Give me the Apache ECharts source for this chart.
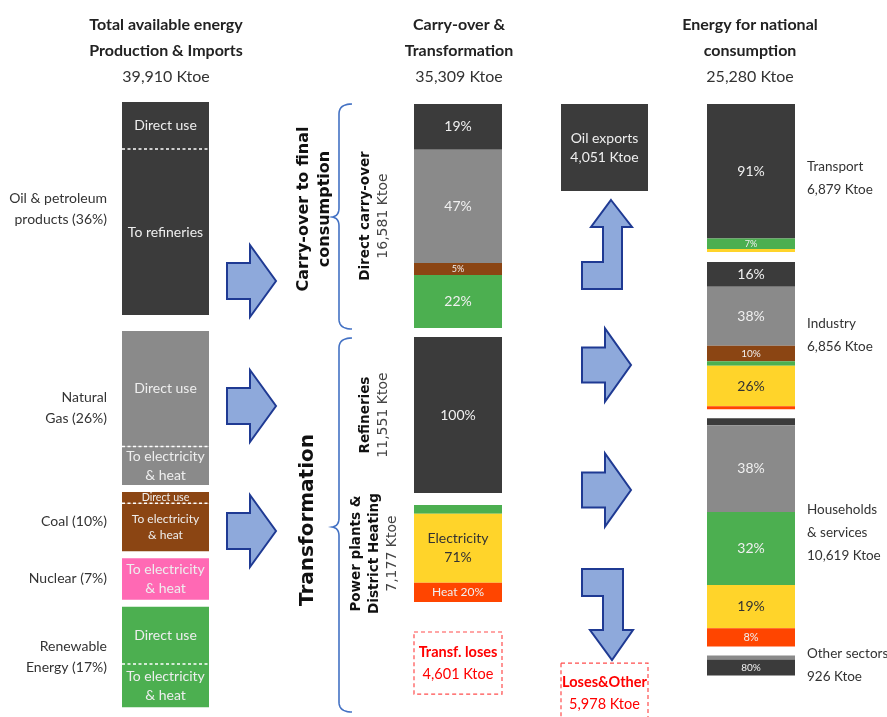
<!DOCTYPE html>
<html><head><meta charset="utf-8">
<script src="https://cdn.jsdelivr.net/npm/echarts@6/dist/echarts.min.js"></script>
<style>html,body{margin:0;padding:0;background:#fff}#c{width:887px;height:717px}</style>
</head><body><div id="c"></div>
<script>
// ================= DATA =================
// Column 1 – Total available energy (production & imports)
const totalAvailableKtoe = 39910;
const sourceNames = ['Oil & petroleum\nproducts (36%)', 'Natural\nGas (26%)', 'Coal (10%)', 'Nuclear (7%)', 'Renewable\nEnergy (17%)'];
const sourceFuels = ['oil', 'gas', 'coal', 'nuclear', 'renew'];
const sourceShare = [36, 26, 10, 7, 17];            // % of total available energy
const sourceDirectShare = [22, 75, 19, 0, 57];      // % of each source used directly
const sourceRestLabels = ['To refineries', 'To electricity\n& heat', 'To electricity\n& heat', 'To electricity\n& heat', 'To electricity\n& heat'];

// Column 2 – Carry-over & transformation
const carryTotalKtoe = 35309;
const carryBlockNames = ['Direct carry-over', 'Refineries', 'Power plants &\nDistrict Heating'];
const carryBlockKtoe = [16581, 11551, 7177];
const directCarryFuels = ['oil', 'gas', 'coal', 'renew'];
const directCarryMix = [19, 47, 5, 22];
const refineryFuels = ['oil'];
const refineryMix = [100];
const powerFuels = ['renew', 'elec', 'heat'];
const powerMix = [9, 71, 20];
const powerLabelPrefix = [null, 'Electricity\n', 'Heat '];
const transfLossesKtoe = 4601;

// Column 3 – Energy for national consumption
const nationalTotalKtoe = 25280;
const sectorNames = ['Transport', 'Industry', 'Households\n& services', 'Other sectors'];
const sectorKtoe = [6879, 6856, 10619, 926];
const transportFuels = ['oil', 'renew', 'elec'];
const transportMix = [91, 7, 2];
const industryFuels = ['oil', 'gas', 'coal', 'renew', 'elec', 'heat'];
const industryMix = [16, 38, 10, 3, 26, 2];
const householdFuels = ['oil', 'gas', 'renew', 'elec', 'heat'];
const householdMix = [3, 38, 32, 19, 8];
const otherFuels = ['gas', 'oil'];
const otherMix = [20, 80];
const oilExportsKtoe = 4051;
const lossesOtherKtoe = 5978;

// ================= STYLE / LAYOUT =================
const LATO = 'Lato, "Open Sans", sans-serif';
const DEJA = '"DejaVu Sans", Verdana, sans-serif';
const COLORS = {oil:'#3B3B3B', gas:'#8A8A8A', coal:'#8B4513', nuclear:'#FF69B4', renew:'#4CAF50', elec:'#FFD42A', heat:'#FF4500'};
const leftLabelFont = [14, 14, 12, 14, 14];
const CANVAS_H = 717;
const fmt = v => v.toLocaleString('en-US') + ' Ktoe';
const sum = a => a.reduce((s, v) => s + v, 0);

function buildColumn(blocks, gapsPx, ppu) {
  const items = [];
  let cursor = 0;
  blocks.forEach((b, i) => {
    if (i > 0) cursor += gapsPx[i - 1] / ppu;
    const top = cursor;
    b.segs.forEach(s => {
      items.push(Object.assign({kind: 'seg', y0: cursor, y1: cursor + s.v}, s));
      cursor += s.v;
    });
    if (b.side) items.push(Object.assign({kind: 'side', y0: top, y1: cursor}, b.side));
  });
  return {items, max: cursor};
}

function mixSegs(total, mix, fuels, prefixes) {
  const s = sum(mix);
  return mix.map((m, j) => {
    const pre = prefixes ? prefixes[j] : '';
    return {
      v: total * m / s,
      color: COLORS[fuels[j]],
      label: (m >= 5 && pre !== null) ? pre + m + '%' : '',
      textFill: fuels[j] === 'elec' ? '#333' : '#f0f0f0'
    };
  });
}

// Column 1 blocks
const leftBlocks = sourceShare.map((share, i) => {
  const direct = share * sourceDirectShare[i] / 100;
  const segs = [];
  if (direct > 0) segs.push({v: direct, color: COLORS[sourceFuels[i]], label: 'Direct use', fontSize: leftLabelFont[i], textFill: '#eee'});
  segs.push({v: share - direct, color: COLORS[sourceFuels[i]], label: sourceRestLabels[i], fontSize: leftLabelFont[i], textFill: '#eee', dashTop: direct > 0});
  return {segs, side: {pos: 'left', text: sourceNames[i]}};
});

// Column 2 blocks
const carryMixes = [[directCarryMix, directCarryFuels, null], [refineryMix, refineryFuels, null], [powerMix, powerFuels, powerLabelPrefix]];
const midBlocks = carryBlockKtoe.map((k, i) => ({
  segs: mixSegs(k, carryMixes[i][0], carryMixes[i][1], carryMixes[i][2]),
  side: {pos: 'rot', name: carryBlockNames[i], value: fmt(k)}
}));
midBlocks.push({segs: [{v: transfLossesKtoe, dashed: true, rich: ['Transf. loses', fmt(transfLossesKtoe)], richPos: 'center'}]});

// Column 3 blocks
const sectorMixes = [[transportMix, transportFuels], [industryMix, industryFuels], [householdMix, householdFuels], [otherMix, otherFuels]];
const rightBlocks = sectorKtoe.map((k, i) => ({
  segs: mixSegs(k, sectorMixes[i][0], sectorMixes[i][1]),
  side: {pos: 'right', text: sectorNames[i] + '\n' + fmt(k)}
}));

// Exports / losses column
const exportBlocks = [
  {segs: [{v: oilExportsKtoe, color: COLORS.oil, label: 'Oil exports\n' + fmt(oilExportsKtoe), textFill: '#eee', fontSize: 14}]},
  {segs: [{v: lossesOtherKtoe, dashed: true, rich: ['Loses&Other', fmt(lossesOtherKtoe)], richPos: 'top'}]}
];

const cols = [
  Object.assign({left: 122, width: 87, top: 102, ppu: 5.92}, buildColumn(leftBlocks, [16, 7, 7, 7], 5.92)),
  Object.assign({left: 414, width: 88, top: 104, ppu: 0.01351}, buildColumn(midBlocks, [9, 12, 30], 0.01351)),
  Object.assign({left: 707, width: 88, top: 104, ppu: 0.0215}, buildColumn(rightBlocks, [10, 9, 9], 0.0215)),
  Object.assign({left: 561, width: 87, top: 104, ppu: 0.0215}, buildColumn(exportBlocks, [472], 0.0215))
];
// grid height kept inside the canvas; axis max derived from the same px-per-unit scale
cols.forEach(c => {
  c.h = Math.min(c.max * c.ppu, CANVAS_H - c.top - 2);
  c.axisMax = c.h / c.ppu;
});

function makeSeries(gi, items) {
  return {
    type: 'custom', coordinateSystem: 'cartesian2d', xAxisIndex: gi, yAxisIndex: gi,
    encode: {x: 0, y: [1, 2]}, silent: true, animation: false, clip: false,
    data: items.map(it => [0, it.y0, it.y1]),
    renderItem: (params, api) => {
      const it = items[params.dataIndex];
      const p0 = api.coord([0, api.value(1)]);
      const p1 = api.coord([1, api.value(2)]);
      const x0 = p0[0], y0 = p0[1], x1 = p1[0], y1 = p1[1];
      const w = x1 - x0, h = y1 - y0, cx = (x0 + x1) / 2, cy = (y0 + y1) / 2;
      const ch = [];
      if (it.kind === 'seg') {
        if (it.dashed) {
          ch.push({type: 'rect', shape: {x: x0, y: y0, width: w, height: h}, style: {fill: '#fff', stroke: '#FF4D4D', lineWidth: 1.2, lineDash: [4, 3]}});
          const rich = {
            b: {fontFamily: LATO, fontWeight: 'bold', fontSize: 14.5, fill: '#FF0000', lineHeight: 22, align: 'center'},
            n: {fontFamily: LATO, fontSize: 14.5, fill: '#FF0000', lineHeight: 22, align: 'center'}
          };
          ch.push({type: 'text', x: cx, y: it.richPos === 'top' ? y0 + 30 : cy, style: {
            text: '{b|' + it.rich[0] + '}\n{n|' + it.rich[1] + '}', rich, align: 'center', verticalAlign: 'middle'}});
        } else {
          ch.push({type: 'rect', shape: {x: x0, y: y0, width: w, height: h}, style: {fill: it.color}});
          if (it.dashTop) ch.push({type: 'line', shape: {x1: x0, y1: y0, x2: x1, y2: y0}, style: {stroke: '#fff', lineWidth: 1.5, lineDash: [3, 2.5]}});
          if (it.label && h >= 8) {
            const fs = it.fontSize ? Math.min(it.fontSize, Math.max(9.5, h * 0.95)) : Math.max(9, Math.min(14, Math.round(h * 0.62)));
            ch.push({type: 'text', x: cx, y: cy, style: {text: it.label, fill: it.textFill, fontFamily: LATO, fontSize: fs,
              lineHeight: Math.round(fs * 1.35), align: 'center', verticalAlign: 'middle'}});
          }
        }
      } else if (it.pos === 'left') {
        ch.push({type: 'text', x: x0 - 15, y: cy, style: {text: it.text, fill: '#333', fontFamily: LATO, fontSize: 14, lineHeight: 21, align: 'right', verticalAlign: 'middle'}});
      } else if (it.pos === 'right') {
        ch.push({type: 'text', x: x1 + 12, y: cy, style: {text: it.text, fill: '#333', fontFamily: LATO, fontSize: 13.5, lineHeight: 23, align: 'left', verticalAlign: 'middle'}});
      } else if (it.pos === 'rot') {
        const txt = it.name.split('\n').map(l => '{b|' + l + '}').join('\n') + '\n{n|' + it.value + '}';
        ch.push({type: 'text', x: x0 - 40, y: cy, rotation: Math.PI / 2, style: {
          text: txt, align: 'center', verticalAlign: 'middle',
          rich: {
            b: {fontFamily: DEJA, fontWeight: 'bold', fontSize: 13.5, fill: '#111', lineHeight: 18, align: 'center'},
            n: {fontFamily: DEJA, fontSize: 14, fill: '#444', lineHeight: 18, align: 'center'}
          }}});
      }
      return {type: 'group', children: ch};
    }
  };
}

// decorative arrows
const ARROW = {fill: '#8EA9DB', stroke: '#1F3A93', lineWidth: 2};
function rightArrow(xl, xm, xt, ty, bh, hh) {
  return {type: 'polygon', shape: {points: [[xl, ty - bh], [xm, ty - bh], [xm, ty - hh], [xt, ty], [xm, ty + hh], [xm, ty + bh], [xl, ty + bh]]}, style: ARROW};
}
function header(x, l1, l2, val) {
  return {type: 'text', x: x, y: 51, style: {
    text: '{b|' + l1 + '}\n{b|' + l2 + '}\n{n|' + val + '}', align: 'center', verticalAlign: 'middle',
    rich: {
      b: {fontFamily: LATO, fontWeight: 'bold', fontSize: 16, fill: '#222', lineHeight: 26, align: 'center'},
      n: {fontFamily: LATO, fontSize: 16, fill: '#333', lineHeight: 26, align: 'center'}
    }}};
}
// curly brace as a polyline (quadratic curves sampled)
function bracePoints(xr, xl, xp, yt, ym, yb) {
  const pts = [];
  const quad = (a, c, b) => { for (let t = 0; t <= 1.0001; t += 0.1) {
    const u = 1 - t; pts.push([u*u*a[0] + 2*u*t*c[0] + t*t*b[0], u*u*a[1] + 2*u*t*c[1] + t*t*b[1]]); } };
  quad([xr, yt], [xl, yt], [xl, yt + 10]);
  quad([xl, ym - 9], [xl, ym - 1], [xp, ym]);
  quad([xp, ym], [xl, ym + 1], [xl, ym + 9]);
  quad([xl, yb - 10], [xl, yb], [xr, yb]);
  return pts;
}
const BRACE = {fill: null, stroke: '#4472C4', lineWidth: 1.6};

const graphic = [
  header(166, 'Total available energy', 'Production & Imports', fmt(totalAvailableKtoe)),
  header(459, 'Carry-over &', 'Transformation', fmt(carryTotalKtoe)),
  header(750, 'Energy for national', 'consumption', fmt(nationalTotalKtoe)),
  rightArrow(227, 250, 276, 281, 18, 36),
  rightArrow(227, 250, 276, 406, 18, 36),
  rightArrow(227, 250, 276, 531, 18, 36),
  rightArrow(582, 605, 631, 365, 17.5, 36.5),
  rightArrow(582, 605, 631, 490, 17.5, 36.5),
  {type: 'polygon', shape: {points: [[611, 200], [632, 227], [622, 227], [622, 289], [582, 289], [582, 262], [603, 262], [603, 227], [591, 227]]}, style: ARROW},
  {type: 'polygon', shape: {points: [[582, 569], [623, 569], [623, 630], [633, 630], [612, 660], [590, 630], [603, 630], [603, 596], [582, 596]]}, style: ARROW},
  {type: 'polyline', shape: {points: bracePoints(352, 339, 332, 104, 217, 329)}, style: BRACE},
  {type: 'polyline', shape: {points: bracePoints(352, 339, 332, 338, 527, 712)}, style: BRACE},
  {type: 'text', x: 314, y: 209, rotation: Math.PI / 2, style: {text: 'Carry-over to final\nconsumption', fontFamily: DEJA, fontWeight: 'bold', fontSize: 16, lineHeight: 21, fill: '#111', align: 'center', verticalAlign: 'middle'}},
  {type: 'text', x: 308, y: 520, rotation: Math.PI / 2, style: {text: 'Transformation', fontFamily: DEJA, fontWeight: 'bold', fontSize: 20, fill: '#111', align: 'center', verticalAlign: 'middle'}}
];

const chart = echarts.init(document.getElementById('c'), null, {renderer: 'canvas'});
chart.setOption({
  backgroundColor: '#fff',
  animation: false,
  grid: cols.map(c => ({left: c.left, top: c.top, width: c.width, height: c.h})),
  xAxis: cols.map((c, i) => ({type: 'value', gridIndex: i, min: 0, max: 1, show: false})),
  yAxis: cols.map((c, i) => ({type: 'value', gridIndex: i, min: 0, max: c.axisMax, inverse: true, show: false})),
  series: cols.map((c, i) => makeSeries(i, c.items)),
  graphic: graphic
});
</script></body></html>
